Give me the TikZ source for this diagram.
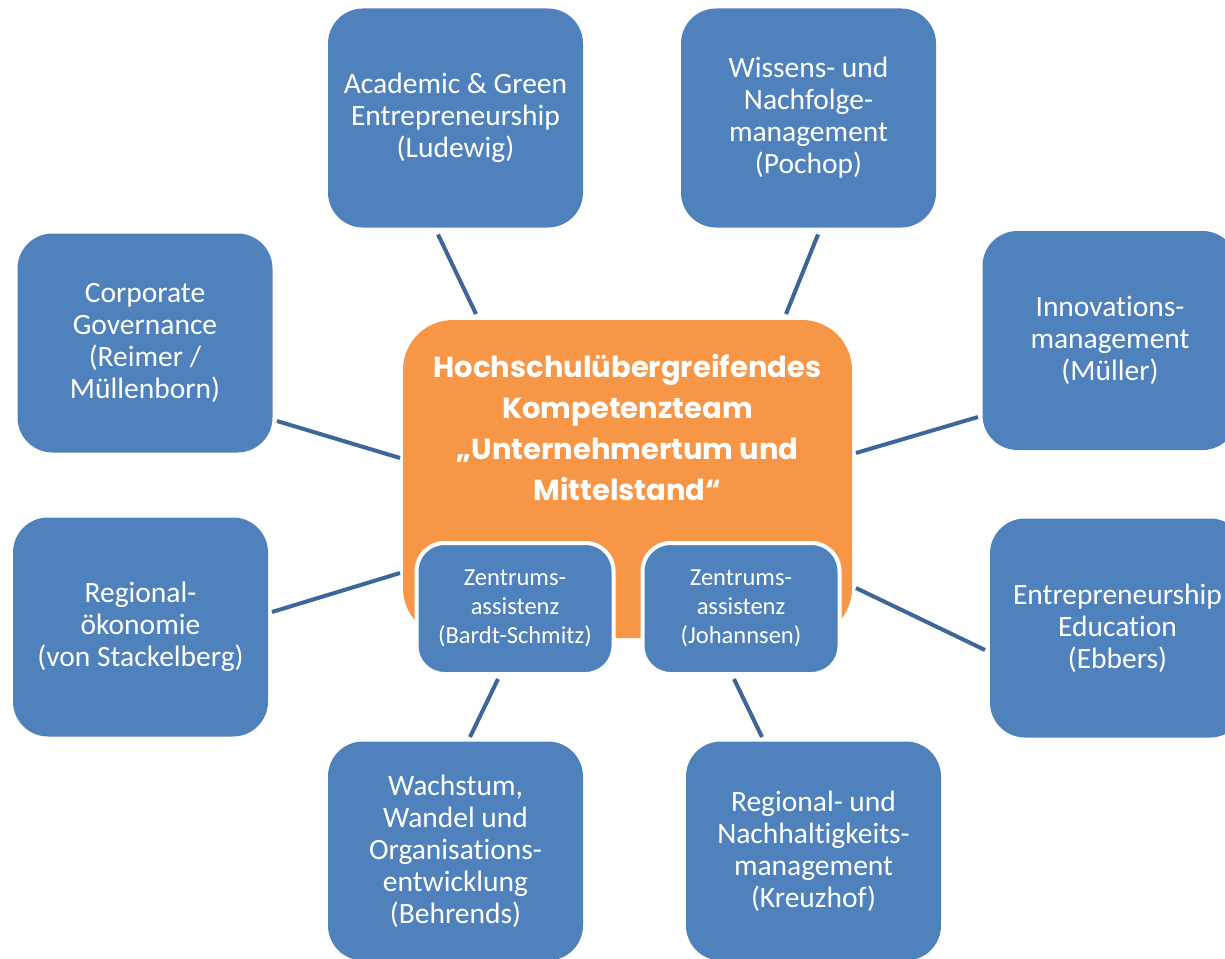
\documentclass[tikz,border=0pt]{standalone}
\usepackage{fontspec}
\setmainfont{Carlito}[Ligatures=NoCommon]
\newfontfamily\titlefont{Poppins}
\usetikzlibrary{calc}
\definecolor{boxblue}{HTML}{4F81BD}
\definecolor{boxorange}{HTML}{F79646}
\definecolor{linkblue}{HTML}{3D6699}
\begin{document}
\begin{tikzpicture}[x=1pt,y=-1pt,
 topic/.style={draw=none, fill=boxblue, rounded corners=35pt, minimum width=255pt, minimum height=219pt, inner sep=0pt, outer sep=0pt, text=white, align=center, font=\fontsize{29.5}{32}\selectfont},
 helper/.style={draw=white, line width=4pt, fill=boxblue, rounded corners=28pt, minimum width=197pt, minimum height=131pt, inner sep=0pt, outer sep=0pt, text=white, align=center, font=\fontsize{24.5}{29}\selectfont},
 hub/.style={fill=boxorange, rounded corners=50pt, minimum width=449pt, minimum height=318pt, inner sep=0pt, outer sep=0pt},
 title/.style={text=white, align=center, font=\titlefont\bfseries\fontsize{29}{41}\selectfont},
 link/.style={draw=linkblue, line width=4pt}]
\clip (0,0) rectangle (1225,958);
\node[hub] (O) at (627.5,479) {};
\node[title] (T) at (627.5,427) {Hochschulübergreifendes\\Kompetenzteam\\„Unternehmertum und\\Mittelstand“};
\node[helper] (S1) at (515,608.5) {\raisebox{-3pt}{\begin{tabular}{@{}c@{}}Zentrums-\\assistenz\\(Bardt-Schmitz)\end{tabular}}};
\node[helper] (S2) at (741,608.5) {\raisebox{-3pt}{\begin{tabular}{@{}c@{}}Zentrums-\\assistenz\\(Johannsen)\end{tabular}}};
\node[topic] (A) at (455.5,118) {Academic \& Green\\Entrepreneurship\\(Ludewig)};
\node[topic] (W) at (808.5,118) {Wissens- und\\Nachfolge-\\management\\(Pochop)};
\node[topic] (C) at (145,343) {Corporate\\Governance\\(Reimer /\\Müllenborn)};
\node[topic] (I) at (1110,340.5) {Innovations-\\management\\(Müller)};
\node[topic] (R) at (140.5,627) {Regional-\\ökonomie\\(von Stackelberg)};
\node[topic] (E) at (1117.5,628) {Entrepreneurship\\Education\\(Ebbers)};
\node[topic] (B) at (455.5,851) {Wachstum,\\Wandel und\\Organisations-\\entwicklung\\(Behrends)};
\node[topic] (K) at (813.5,851) {Regional- und\\Nachhaltigkeits-\\management\\(Kreuzhof)};
\draw[link] ($(A.south west)+(110,7)$) -- ($(O.north west)+(73,-6)$);
\draw[link] ($(W.south west)+(137,7)$) -- ($(O.north west)+(383,-6)$);
\draw[link] ($(C.south east)+(4.5,-31.5)$) -- ($(O.north west)+(-3,138)$);
\draw[link] ($(R.north east)+(4,94.5)$) -- ($(O.north west)+(-3,253)$);
\draw[link] ($(I.south west)+(-4.5,-33)$) -- ($(O.north east)+(4,133)$);
\draw[link] ($(E.north west)+(-5,131.5)$) -- ($(O.north east)+(4,268)$);
\draw[link] ($(S1.south)+(-17,5)$) -- ($(B.north)+(14.5,-4.5)$);
\draw[link] ($(S2.south)+(-7,5)$) -- ($(K.north)+(-51.5,-4.5)$);
\end{tikzpicture}
\end{document}
